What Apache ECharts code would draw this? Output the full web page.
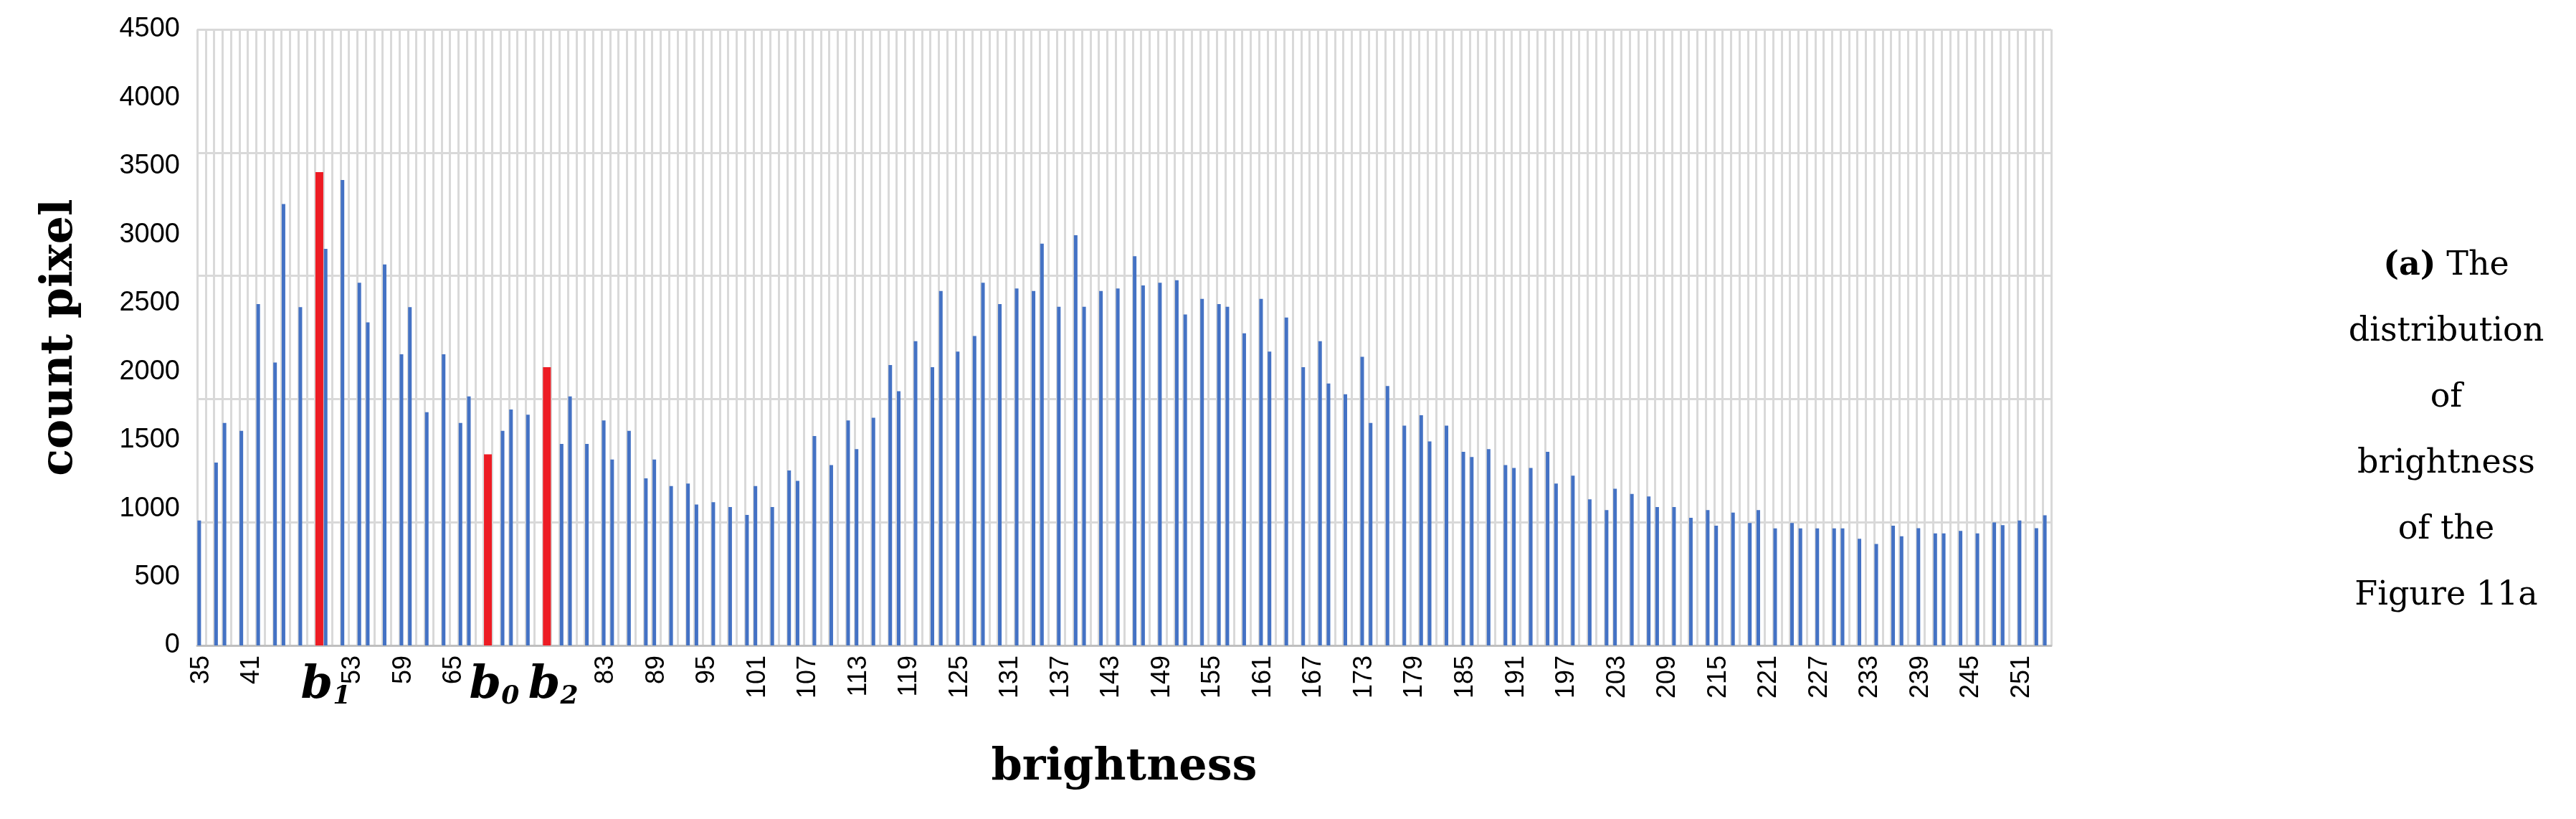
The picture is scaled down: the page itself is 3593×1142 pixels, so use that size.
<!DOCTYPE html>
<html>
<head>
<meta charset="UTF-8">
<script src="https://cdn.jsdelivr.net/npm/echarts@6/dist/echarts.min.js"></script>
<style>
  html, body { margin: 0; padding: 0; background: #fff; }
  #chart { width: 3593px; height: 1142px; }
</style>
</head>
<body>
<div id="chart"></div>
<script>
// brightness levels 35..254
const firstLevel = 35;
const lastLevel = 254;

// bars that can be read in the picture
const blueLevels = [35, 37, 38, 40, 42, 44, 45, 47, 50, 52, 54, 55, 57, 59, 60, 62, 64, 66, 67, 71, 72, 74, 78, 79, 81, 83, 84, 86, 88, 89, 91, 93, 94, 96, 98, 100, 101, 103, 105, 106, 108, 110, 112, 113, 115, 117, 118, 120, 122, 123, 125, 127, 128, 130, 132, 134, 135, 137, 139, 140, 142, 144, 146, 147, 149, 151, 152, 154, 156, 157, 159, 161, 162, 164, 166, 168, 169, 171, 173, 174, 176, 178, 180, 181, 183, 185, 186, 188, 190, 191, 193, 195, 196, 198, 200, 202, 203, 205, 207, 208, 210, 212, 214, 215, 217, 219, 220, 222, 224, 225, 227, 229, 230, 232, 234, 236, 237, 239, 241, 242, 244, 246, 248, 249, 251, 253, 254];
const blueCounts = [913, 1336, 1625, 1568, 2493, 2067, 3225, 2471, 2897, 3400, 2649, 2360, 2783, 2127, 2471, 1704, 2127, 1625, 1819, 1568, 1724, 1685, 1472, 1819, 1472, 1644, 1358, 1568, 1221, 1358, 1164, 1183, 1030, 1046, 1011, 954, 1164, 1011, 1278, 1202, 1530, 1317, 1644, 1434, 1663, 2048, 1857, 2223, 2032, 2589, 2147, 2261, 2649, 2493, 2608, 2589, 2935, 2474, 2996, 2474, 2589, 2608, 2843, 2630, 2649, 2668, 2417, 2531, 2493, 2474, 2280, 2531, 2147, 2395, 2032, 2223, 1914, 1835, 2108, 1625, 1895, 1606, 1682, 1491, 1606, 1415, 1377, 1434, 1317, 1297, 1297, 1415, 1183, 1240, 1068, 989, 1145, 1107, 1088, 1011, 1011, 932, 989, 875, 970, 894, 989, 855, 894, 855, 855, 855, 855, 779, 741, 875, 798, 856, 818, 818, 837, 818, 898, 879, 913, 856, 951];

// the three marked levels b1, b0, b2
const redLevels = [49, 69, 76];
const redCounts = [3457, 1396, 2032];
const redNames = ['1', '0', '2'];

// axis labels replaced by the b markers
const hiddenLabels = [47, 71, 77];

const captionLines = ['{b|(a)} The', 'distribution', 'of', 'brightness', 'of the', 'Figure 11a'];

const categories = [];
for (let v = firstLevel; v <= lastLevel; v++) categories.push(String(v));

const blueData = categories.map(c => {
    const i = blueLevels.indexOf(Number(c));
    return i >= 0 ? blueCounts[i] : null;
});
const redData = categories.map(c => {
    const i = redLevels.indexOf(Number(c));
    return i >= 0 ? redCounts[i] : null;
});

const chart = echarts.init(document.getElementById('chart'));

const option = {
    backgroundColor: '#fff',
    animation: false,
    grid: { left: 275, right: 732, top: 41, bottom: 242 },
    xAxis: {
        type: 'category',
        data: categories,
        name: 'brightness',
        nameLocation: 'middle',
        nameGap: 140,
        nameTextStyle: { fontFamily: 'DejaVu Serif', fontWeight: 'bold', fontSize: 62, color: '#000' },
        axisLine: { lineStyle: { color: '#bfbfbf', width: 3 } },
        axisTick: { show: false },
        splitLine: { show: true, interval: 0, lineStyle: { color: '#d9d9d9', width: 3 } },
        axisLabel: {
            rotate: 90,
            interval: 0,
            margin: 14,
            fontFamily: 'Liberation Sans',
            fontSize: 36,
            color: '#000',
            formatter: (v, idx) => (idx % 6 === 0 && !hiddenLabels.includes(Number(v))) ? v : ''
        }
    },
    yAxis: [{
        type: 'value',
        min: 0, max: 4500, interval: 500,
        name: 'count pixel',
        nameLocation: 'middle',
        nameGap: 160,
        nameRotate: 90,
        nameTextStyle: { fontFamily: 'DejaVu Serif', fontWeight: 'bold', fontSize: 62, color: '#000' },
        axisLine: { show: false },
        axisTick: { show: false },
        splitLine: { show: false },
        axisLabel: { fontFamily: 'Liberation Sans', fontSize: 38, color: '#000', margin: 24, formatter: v => String(v) }
    }, {
        type: 'value',
        min: 0, max: 4500, interval: 900,
        position: 'left',
        axisLine: { show: false },
        axisTick: { show: false },
        axisLabel: { show: false },
        splitLine: { show: true, lineStyle: { color: '#d9d9d9', width: 3 } }
    }],
    series: [{
        type: 'bar',
        data: blueData,
        barWidth: 5,
        itemStyle: { color: '#4472c4' }
    }, {
        type: 'bar',
        data: redData,
        barWidth: 11,
        barGap: '-100%',
        itemStyle: { color: '#ed1c24' }
    }],
    graphic: [{
        type: 'text',
        x: 3412,
        y: 325,
        style: {
            text: captionLines.join('\n'),
            textAlign: 'center',
            align: 'center',
            fontFamily: 'DejaVu Serif',
            fontSize: 46,
            lineHeight: 92,
            fill: '#000',
            rich: { b: { fontFamily: 'DejaVu Serif', fontWeight: 'bold', fontSize: 46, lineHeight: 92 } }
        }
    }]
};

chart.setOption(option);

// b markers under the red bars
const markers = redLevels.map((lvl, i) => {
    const x = chart.convertToPixel({ xAxisIndex: 0 }, String(lvl));
    return {
        type: 'text',
        x: x - 26,
        y: 922,
        style: {
            text: '{m|b}{s|' + redNames[i] + '}',
            rich: {
                m: { fontFamily: 'DejaVu Serif', fontStyle: 'italic', fontWeight: 'bold', fontSize: 64, fill: '#000' },
                s: { fontFamily: 'DejaVu Serif', fontStyle: 'italic', fontWeight: 'bold', fontSize: 36, fill: '#000', padding: [32, 0, 0, 0] }
            }
        }
    };
});
chart.setOption({ graphic: option.graphic.concat(markers) });
</script>
</body>
</html>
